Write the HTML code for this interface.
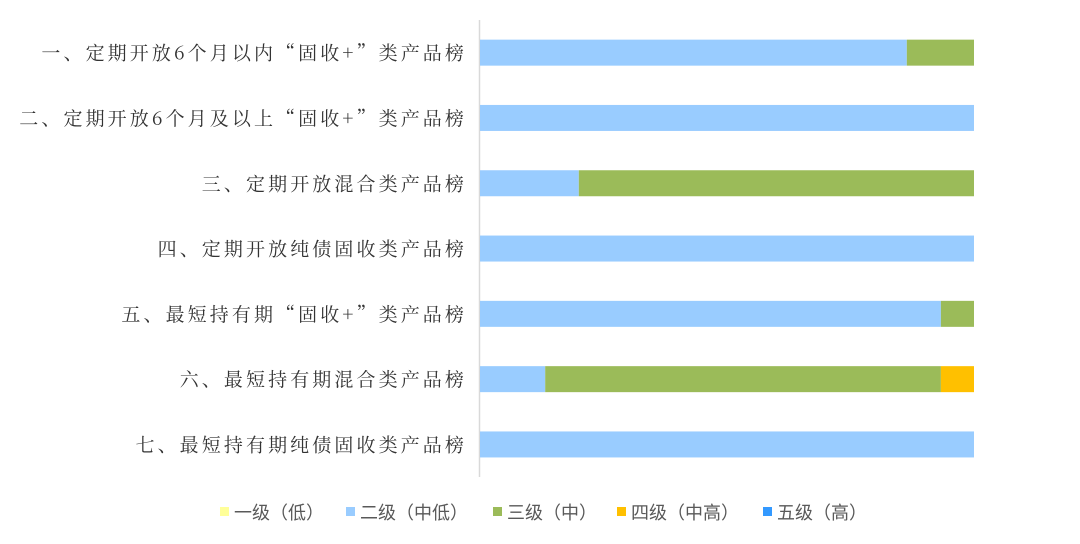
<!DOCTYPE html>
<html><head><meta charset="utf-8"><style>
body{margin:0;background:#fff;width:1080px;height:539px;overflow:hidden}
.lab{font-family:"Noto Serif CJK SC","Liberation Serif",serif}
.leg{font-family:"Noto Sans CJK SC","Liberation Sans",sans-serif}
</style></head><body>
<svg id="chart" width="1080" height="539">
<line x1="479.5" y1="20" x2="479.5" y2="477" stroke="#d9d9d9" stroke-width="1.5"/>
<g id="bars"></g><g id="labels"></g><g id="legend"></g>
</svg>
<script>
const categories=["一、定期开放6个月以内“固收+”类产品榜","二、定期开放6个月及以上“固收+”类产品榜","三、定期开放混合类产品榜","四、定期开放纯债固收类产品榜","五、最短持有期“固收+”类产品榜","六、最短持有期混合类产品榜","七、最短持有期纯债固收类产品榜"];
const seriesNames=["一级（低）","二级（中低）","三级（中）","四级（中高）","五级（高）"];
const level1=[0,0,0,0,0,0,0];
const level2=[86.4,100,20,100,93.3,13.2,100];
const level3=[13.6,0,80,0,6.7,80.1,0];
const level4=[0,0,0,0,0,6.7,0];
const level5=[0,0,0,0,0,0,0];
const colors=["#ffff99","#99ccff","#9bbb59","#ffc000","#3399ff"];
const series=[level1,level2,level3,level4,level5];
const NS="http://www.w3.org/2000/svg";
const x0=480,x1=974,top0=20,bandH=65.3,barH=26;
const xs=v=>x0+(x1-x0)*v/100;
const yc=i=>top0+bandH*(i+0.5);
const bars=document.getElementById('bars'),labels=document.getElementById('labels'),legend=document.getElementById('legend');
categories.forEach((c,i)=>{
  let acc=0;
  series.forEach((s,k)=>{
    const v=s[i]; if(v<=0){return;}
    const r=document.createElementNS(NS,'rect');
    r.setAttribute('x',xs(acc));r.setAttribute('width',xs(acc+v)-xs(acc));
    r.setAttribute('y',yc(i)-barH/2);r.setAttribute('height',barH);
    r.setAttribute('fill',colors[k]);
    
    
    bars.appendChild(r);acc+=v;
  });
  const t=document.createElementNS(NS,'text');
  t.setAttribute('class','lab');
  t.setAttribute('x',467);t.setAttribute('y',yc(i)+7);t.setAttribute('text-anchor','end');
  t.setAttribute('font-size','19');t.setAttribute('letter-spacing','3.1');t.setAttribute('fill','#333');
  t.textContent=c;
  
  
  labels.appendChild(t);
});
const lx=[220,346,493,617,763];
seriesNames.forEach((n,k)=>{
  const r=document.createElementNS(NS,'rect');
  r.setAttribute('x',lx[k]);r.setAttribute('y',507);r.setAttribute('width',9);r.setAttribute('height',9);r.setAttribute('fill',colors[k]);
  
  
  legend.appendChild(r);
  const t=document.createElementNS(NS,'text');
  t.setAttribute('class','leg');
  t.setAttribute('x',lx[k]+14);t.setAttribute('y',519);t.setAttribute('font-size','18');t.setAttribute('fill','#595959');
  t.textContent=n;
  
  
  legend.appendChild(t);
});
</script>
</body></html>
